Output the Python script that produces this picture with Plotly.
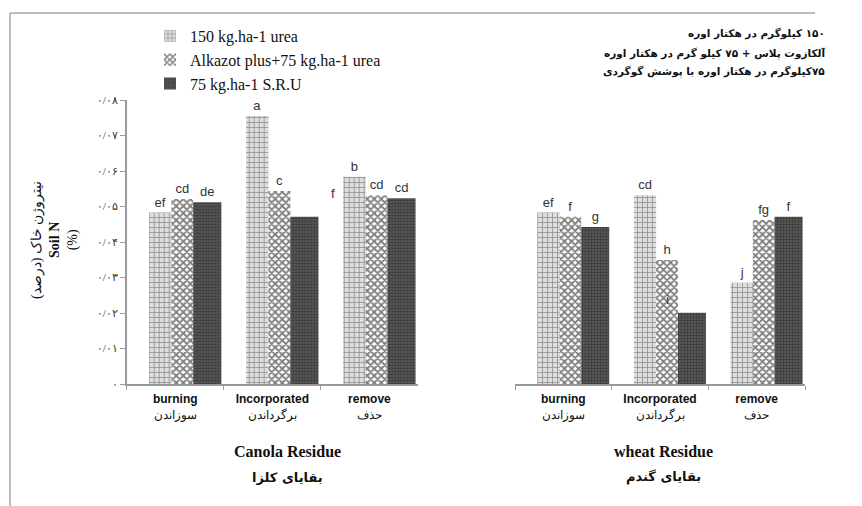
import plotly.graph_objects as go

W, H = 862, 506
PAGE_OFFSET = 8  # default body margin of the page that holds the figure
RLM = "\u200f"

categories = ["burning", "Incorporated", "remove"]
categories_fa = ["سوزاندن", "برگرداندن", "حذف"]
series_names = ["150 kg.ha-1 urea", "Alkazot plus+75 kg.ha-1 urea", "75 kg.ha-1 S.R.U"]
series_names_fa = [
    "۱۵۰ کیلوگرم در هکتار اوره",
    "آلکازوت پلاس + ۷۵ کیلو گرم در هکتار اوره",
    "۷۵کیلوگرم در هکتار اوره با پوشش گوگردی",
]

canola_150 = [0.0483, 0.0755, 0.0584]
canola_alk = [0.0521, 0.0544, 0.0532]
canola_sru = [0.0512, 0.0471, 0.0523]
wheat_150 = [0.0483, 0.0532, 0.0285]
wheat_alk = [0.0471, 0.0349, 0.0462]
wheat_sru = [0.0442, 0.0201, 0.0471]

canola_letters_150 = ["ef", "a", "b"]
canola_letters_alk = ["cd", "c", "cd"]
canola_letters_sru = ["de", "", "cd"]
wheat_letters_150 = ["ef", "cd", "j"]
wheat_letters_alk = ["f", "h", "fg"]
wheat_letters_sru = ["g", "", "f"]
# letters drawn away from their bars in the original
canola_extra_letter = ("remove", 0.0538, "f")
wheat_extra_letter = ("Incorporated", 0.0237, "i")

y_tickvals = [0, 0.01, 0.02, 0.03, 0.04, 0.05, 0.06, 0.07, 0.08]
y_ticktext = ["۰", "۰/۰۱", "۰/۰۲", "۰/۰۳", "۰/۰۴", "۰/۰۵", "۰/۰۶", "۰/۰۷", "۰/۰۸"]

y_title_fa = "نیتروژن خاک (درصد)"
group_titles = [("Canola Residue", "بقایای کلزا"), ("wheat Residue", "بقایای گندم")]


def px_x(p):
    return (p - PAGE_OFFSET) / W


def px_y(p):
    return 1 - (p - PAGE_OFFSET) / H


patterns = [
    dict(shape="+", fgcolor="#444444", bgcolor="#dedede", size=5, solidity=0.3),
    dict(shape="x", fgcolor="#000000", bgcolor="#ffffff", size=5, solidity=0.6),
    dict(shape=".", fgcolor="#151515", bgcolor="#5e5e5e", size=3, solidity=0.5),
]
offsets = [-0.27, -0.04, 0.185]
widths = [0.23, 0.225, 0.29]

fig = go.Figure()

data_sets = [
    ("x", [canola_150, canola_alk, canola_sru],
     [canola_letters_150, canola_letters_alk, canola_letters_sru]),
    ("x2", [wheat_150, wheat_alk, wheat_sru],
     [wheat_letters_150, wheat_letters_alk, wheat_letters_sru]),
]

for gi, (xa, vals, letters) in enumerate(data_sets):
    for si in range(3):
        fig.add_trace(go.Bar(
            x=categories, y=vals[si], xaxis=xa, yaxis="y",
            name=series_names[si], legendgroup=f"s{si}", showlegend=(gi == 0),
            offset=offsets[si], width=widths[si],
            marker=dict(color=patterns[si]["bgcolor"], pattern=patterns[si], line=dict(width=0)),
            text=letters[si], textposition="outside", textangle=0,
            constraintext="none", cliponaxis=False,
            textfont=dict(family="Liberation Sans", size=13, color="#333333"),
        ))

ticktext = [f"<b>{e}</b><br>{RLM}{f}" for e, f in zip(categories, categories_fa)]

axis_common = dict(
    type="category", range=[-0.5, 2.5], showline=True, linecolor="#9a9a9a", linewidth=1.5,
    ticks="outside", tickson="boundaries", ticklen=4, tickcolor="#9a9a9a",
    tickvals=categories, ticktext=ticktext, showgrid=False, zeroline=False,
    tickfont=dict(family="Liberation Sans", size=12, color="#111111"), fixedrange=True,
    automargin=False, ticklabelstandoff=3,
)

fig.update_layout(
    width=W, height=H,
    margin=dict(l=0, r=0, t=0, b=0, pad=0, autoexpand=False),
    paper_bgcolor="white", plot_bgcolor="white",
    barmode="overlay",
    xaxis=dict(domain=[px_x(126.7), px_x(418)], anchor="y", **axis_common),
    xaxis2=dict(domain=[px_x(515), px_x(805)], anchor="y", **axis_common),
    yaxis=dict(
        domain=[px_y(384), px_y(100)], range=[0, 0.08], anchor="x",
        tickvals=y_tickvals, ticktext=y_ticktext, ticks="outside", ticklen=5,
        tickcolor="#9a9a9a", showline=True, linecolor="#9a9a9a", linewidth=1.5,
        showgrid=False, zeroline=False, automargin=False, fixedrange=True,
        tickfont=dict(family="Liberation Serif", size=11, color="#333333"),
    ),
    legend=dict(
        x=px_x(150), y=px_y(19), xanchor="left", yanchor="top",
        bgcolor="rgba(0,0,0,0)", tracegroupgap=0,
        font=dict(family="Liberation Serif", size=16, color="#111111"),
    ),
    showlegend=True,
)

ann = []
# Persian legend
for t, yy in zip(series_names_fa, [33, 53, 72]):
    ann.append(dict(x=px_x(827), y=px_y(yy), xref="paper", yref="paper", xanchor="right",
                    yanchor="middle", text=f"<b>{RLM}{t}</b>", showarrow=False,
                    font=dict(family="DejaVu Sans", size=10.5, color="#111111")))
# y-axis title
ann.append(dict(x=px_x(55), y=px_y(240), xref="paper", yref="paper", textangle=-90,
                xanchor="center", yanchor="middle",
                text=f"{RLM}{y_title_fa}<br><b>Soil N</b><br>(%)", showarrow=False,
                font=dict(family="Liberation Serif", size=14, color="#111111")))
# group titles
for (en, fa), cx in zip(group_titles, [287, 663]):
    ann.append(dict(x=px_x(cx), y=px_y(451), xref="paper", yref="paper",
                    xanchor="center", yanchor="middle",
                    text=f"<b>{en}</b>", showarrow=False,
                    font=dict(family="Liberation Serif", size=16, color="#111111")))
    ann.append(dict(x=px_x(cx), y=px_y(477), xref="paper", yref="paper",
                    xanchor="center", yanchor="middle",
                    text=f"<b>{RLM}{fa}</b>", showarrow=False,
                    font=dict(family="DejaVu Sans", size=13, color="#111111")))
# displaced letters
ann.append(dict(x=canola_extra_letter[0], y=canola_extra_letter[1], xref="x", yref="y",
                xshift=-36, text=canola_extra_letter[2], showarrow=False,
                font=dict(family="Liberation Sans", size=13, color="#333333")))
ann.append(dict(x=wheat_extra_letter[0], y=wheat_extra_letter[1], xref="x2", yref="y",
                xshift=7, text=wheat_extra_letter[2], showarrow=False,
                font=dict(family="Liberation Sans", size=13, color="#333333")))
fig.update_layout(annotations=ann)

# outer frame (top and left edges)
fig.add_shape(type="line", xref="paper", yref="paper", x0=px_x(10), x1=px_x(815),
              y0=px_y(13), y1=px_y(13), line=dict(color="#a8a8a8", width=1.5))
fig.add_shape(type="line", xref="paper", yref="paper", x0=px_x(10), x1=px_x(10),
              y0=px_y(13), y1=0, line=dict(color="#a8a8a8", width=1.5))

fig.write_html("out.html")
